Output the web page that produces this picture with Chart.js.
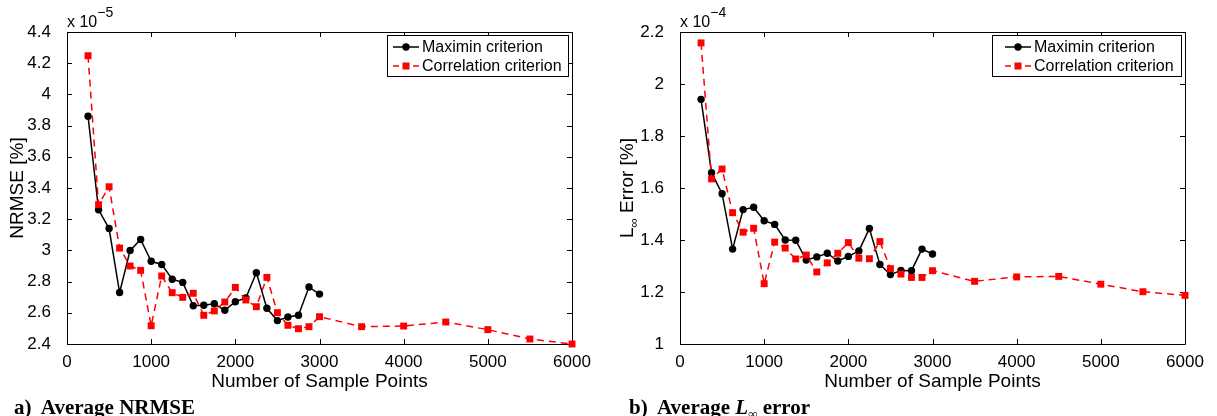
<!DOCTYPE html>
<html>
<head>
<meta charset="utf-8">
<script src="https://cdn.jsdelivr.net/npm/chart.js@4.4.0/dist/chart.umd.min.js"></script>
<style>
  html, body { margin: 0; padding: 0; background: #fff; }
  #wrap { position: relative; width: 1217px; height: 416px; overflow: hidden; }
  .panel { position: absolute; top: 0; height: 416px; }
  .cap { position: absolute; top: 397px; font: bold 21px "Liberation Serif", "Times New Roman", serif; line-height: 20px; white-space: pre; }
  .cap sub { font-size: 13px; vertical-align: -4px; }
</style>
</head>
<body>
<div id="wrap">
  <div class="panel" style="left:0;width:608px"><canvas id="nrmse" width="608" height="416"></canvas></div>
  <div class="panel" style="left:608px;width:609px"><canvas id="linf" width="609" height="416"></canvas></div>
  <div class="cap" style="left:14px">a)  Average NRMSE</div>
  <div class="cap" style="left:629px">b)  Average <i>L</i><sub>∞</sub> error</div>
</div>
<script>
const xTicks = [0, 1000, 2000, 3000, 4000, 5000, 6000];
const nMaximin = [250, 375, 500, 625, 750, 875, 1000, 1125, 1250, 1375, 1500, 1625,
  1750, 1875, 2000, 2125, 2250, 2375, 2500, 2625, 2750, 2875, 3000];
const nCorrelation = [250, 375, 500, 625, 750, 875, 1000, 1125, 1250, 1375, 1500, 1625,
  1750, 1875, 2000, 2125, 2250, 2375, 2500, 2625, 2750, 2875, 3000,
  3500, 4000, 4500, 5000, 5500, 6000];

// values in units of 1e-5
const nrmseMaximin = [3.86, 3.26, 3.14, 2.73, 3.00, 3.07, 2.93, 2.91, 2.815, 2.795, 2.645, 2.648,
  2.658, 2.616, 2.671, 2.695, 2.857, 2.629, 2.55, 2.573, 2.584, 2.765, 2.72];
const nrmseCorrelation = [4.248, 3.293, 3.408, 3.015, 2.90, 2.872, 2.517, 2.836, 2.729, 2.699, 2.725, 2.584,
  2.612, 2.669, 2.763, 2.682, 2.639, 2.827, 2.601, 2.52, 2.498, 2.511, 2.575,
  2.511, 2.515, 2.541, 2.492, 2.432, 2.40];
const nrmseTicks = [2.4, 2.6, 2.8, 3, 3.2, 3.4, 3.6, 3.8, 4, 4.2, 4.4];

// values in units of 1e-4
const linfMaximin = [1.941, 1.659, 1.578, 1.365, 1.517, 1.526, 1.474, 1.46, 1.40, 1.399, 1.323, 1.335,
  1.349, 1.319, 1.337, 1.358, 1.444, 1.306, 1.267, 1.283, 1.282, 1.365, 1.346];
const linfCorrelation = [2.158, 1.635, 1.673, 1.505, 1.43, 1.445, 1.232, 1.392, 1.369, 1.327, 1.342, 1.277,
  1.312, 1.349, 1.39, 1.33, 1.328, 1.394, 1.29, 1.269, 1.256, 1.256, 1.282,
  1.241, 1.258, 1.26, 1.23, 1.201, 1.187];
const linfTicks = [1, 1.2, 1.4, 1.6, 1.8, 2, 2.2];

const seriesNames = ['Maximin criterion', 'Correlation criterion'];

const SANS = '"Liberation Sans", Arial, Helvetica, sans-serif';
const TICK = 5;

function drawRuns(ctx, runs, cx, cy) {
  ctx.save();
  ctx.translate(cx, cy);
  ctx.rotate(-Math.PI / 2);
  ctx.textBaseline = 'middle';
  ctx.textAlign = 'left';
  let w = 0;
  runs.forEach(r => { ctx.font = r.font; w += ctx.measureText(r.t).width; });
  let x = -w / 2;
  runs.forEach(r => {
    ctx.font = r.font;
    ctx.fillText(r.t, x, r.dy || 0);
    x += ctx.measureText(r.t).width;
  });
  ctx.restore();
}

const matlabFrame = {
  id: 'matlabFrame',
  beforeDatasetsDraw(chart, args, o) {
    const { ctx, chartArea: a, scales: { x, y } } = chart;
    ctx.save();
    ctx.strokeStyle = '#000';
    ctx.lineWidth = 1;
    ctx.beginPath();
    ctx.rect(a.left + 0.5, a.top + 0.5, a.right - a.left, a.bottom - a.top);
    x.ticks.forEach(t => {
      const p = Math.round(x.getPixelForValue(t.value)) + 0.5;
      ctx.moveTo(p, a.bottom); ctx.lineTo(p, a.bottom - TICK);
      ctx.moveTo(p, a.top); ctx.lineTo(p, a.top + TICK);
    });
    y.ticks.forEach(t => {
      const p = Math.round(y.getPixelForValue(t.value)) + 0.5;
      ctx.moveTo(a.left, p); ctx.lineTo(a.left + TICK, p);
      ctx.moveTo(a.right, p); ctx.lineTo(a.right - TICK, p);
    });
    ctx.stroke();

    // exponent above the y axis
    ctx.fillStyle = '#000';
    ctx.textBaseline = 'alphabetic';
    ctx.textAlign = 'left';
    ctx.font = '16px ' + SANS;
    ctx.fillText('x 10', a.left, a.top - 5);
    const w = ctx.measureText('x 10').width;
    ctx.font = '14px ' + SANS;
    ctx.fillText('\u2212' + o.exponent, a.left + w, a.top - 15);

    // y axis title
    ctx.fillStyle = '#000';
    drawRuns(ctx, o.yTitle, o.yTitleX, (a.top + a.bottom) / 2);
    ctx.restore();
  },
  afterDraw(chart, args, o) {
    const { ctx, chartArea: a } = chart;
    const lg = o.legend;
    const bx = a.right - 4 - lg.w, by = a.top + 3, bh = 41;
    ctx.save();
    ctx.fillStyle = '#fff';
    ctx.fillRect(bx, by, lg.w, bh);
    ctx.strokeStyle = '#000';
    ctx.lineWidth = 1;
    ctx.strokeRect(bx + 0.5, by + 0.5, lg.w, bh);
    ctx.font = '16px ' + SANS;
    ctx.textBaseline = 'middle';
    ctx.textAlign = 'left';
    const rows = [by + 12, by + 31];
    const x0 = bx + lg.pad, x1 = x0 + 26, xm = (x0 + x1) / 2;
    // maximin row
    ctx.strokeStyle = '#000';
    ctx.lineWidth = 1.5;
    ctx.beginPath(); ctx.moveTo(x0, rows[0]); ctx.lineTo(x1, rows[0]); ctx.stroke();
    ctx.fillStyle = '#000';
    ctx.beginPath(); ctx.arc(xm, rows[0], 3.7, 0, Math.PI * 2); ctx.fill();
    ctx.fillText(seriesNames[0], x0 + 29, rows[0] + 1);
    // correlation row
    ctx.strokeStyle = '#ff0000';
    ctx.setLineDash([6, 4]);
    ctx.beginPath(); ctx.moveTo(x0, rows[1]); ctx.lineTo(x1, rows[1]); ctx.stroke();
    ctx.setLineDash([]);
    ctx.fillStyle = '#ff0000';
    ctx.fillRect(xm - 3.5, rows[1] - 3.5, 7, 7);
    ctx.fillStyle = '#000';
    ctx.fillText(seriesNames[1], x0 + 29, rows[1] + 1);
    ctx.restore();
  }
};

function fmt(v) { return String(Number(v.toFixed(1))); }

function makePanel(id, maximin, correlation, yTicks, frameOpts, geo) {
  const toXY = (xs, ys) => xs.map((n, i) => ({ x: n, y: ys[i] }));
  return new Chart(document.getElementById(id), {
    type: 'line',
    data: {
      datasets: [
        {
          label: seriesNames[0], data: toXY(nMaximin, maximin), order: 1,
          borderColor: '#000', backgroundColor: '#000', borderWidth: 1.5,
          pointStyle: 'circle', pointRadius: 3.7, pointBorderWidth: 0,
          tension: 0, clip: false
        },
        {
          label: seriesNames[1], data: toXY(nCorrelation, correlation), order: 0,
          borderColor: '#ff0000', backgroundColor: '#ff0000', borderWidth: 1.5, borderDash: [7, 5],
          pointStyle: 'rect', pointRadius: 4.9, pointBorderWidth: 0,
          tension: 0, clip: false
        }
      ]
    },
    options: {
      responsive: false,
      animation: false,
      events: [],
      layout: { padding: { left: 0, top: 32, right: geo.right, bottom: 0 } },
      plugins: {
        legend: { display: false },
        tooltip: { enabled: false },
        matlabFrame: frameOpts
      },
      scales: {
        x: {
          type: 'linear', min: 0, max: 6000,
          afterBuildTicks: s => { s.ticks = xTicks.map(v => ({ value: v })); },
          afterFit: s => { s.height = 72; },
          grid: { display: false }, border: { display: false },
          ticks: { color: '#000', font: { family: SANS, size: 17 }, padding: 0, maxRotation: 0, callback: v => String(v) },
          title: { display: true, text: 'Number of Sample Points', color: '#000',
            font: { family: SANS, size: 19 }, padding: { top: 0, bottom: 23 } }
        },
        y: {
          type: 'linear', min: yTicks[0], max: yTicks[yTicks.length - 1],
          afterBuildTicks: s => { s.ticks = yTicks.map(v => ({ value: v })); },
          afterFit: s => { s.width = geo.left; },
          grid: { display: false }, border: { display: false },
          ticks: { color: '#000', font: { family: SANS, size: 17 }, padding: 8, callback: v => fmt(v) }
        }
      }
    },
    plugins: [matlabFrame]
  });
}

makePanel('nrmse', nrmseMaximin, nrmseCorrelation, nrmseTicks, {
  exponent: '5',
  yTitle: [{ t: 'NRMSE [%]', font: '19px ' + SANS }],
  yTitleX: 18,
  legend: { w: 181, pad: 6 }
}, { left: 67, right: 36 });

makePanel('linf', linfMaximin, linfCorrelation, linfTicks, {
  exponent: '4',
  yTitle: [
    { t: 'L', font: '19px ' + SANS },
    { t: '\u221E', font: '13px ' + SANS, dy: 6 },
    { t: ' Error [%]', font: '19px ' + SANS }
  ],
  yTitleX: 20,
  legend: { w: 189, pad: 13 }
}, { left: 72, right: 32 });
</script>
</body>
</html>
